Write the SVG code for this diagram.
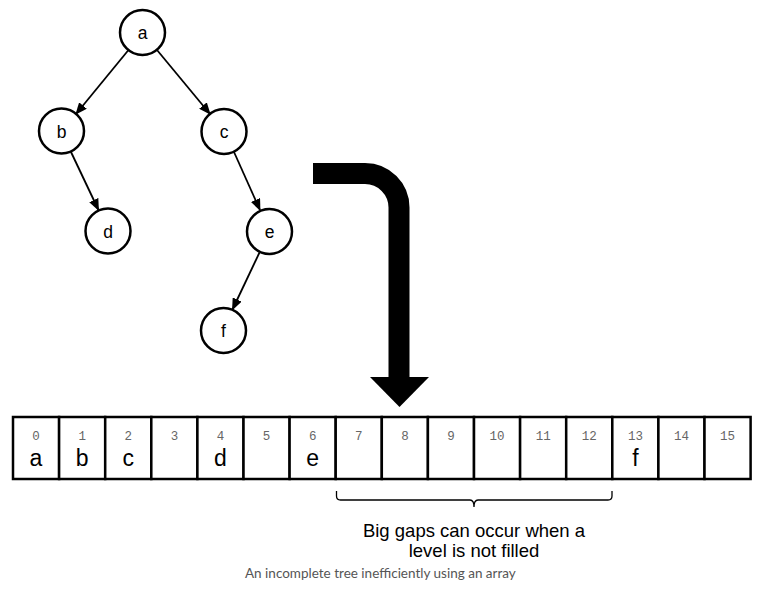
<svg xmlns="http://www.w3.org/2000/svg" width="781" height="589" viewBox="0 0 781 589">
<style>
.node circle{fill:#fff;stroke:#000;stroke-width:2.5}
.node text{font-family:"Liberation Sans",Arial,sans-serif;font-size:17.5px;text-anchor:middle;fill:#000}
.edge{stroke:#000;stroke-width:1.8;fill:none;marker-end:url(#ah)}
.cell{fill:#fff;stroke:#000;stroke-width:2.5}
.idx{font-family:"Liberation Mono","Courier New",monospace;font-size:12.5px;fill:#666;text-anchor:middle}
.val{font-family:"Liberation Sans",Arial,sans-serif;font-size:23px;fill:#000;text-anchor:middle}
.note{font-family:"Liberation Sans",Arial,sans-serif;font-size:18.5px;fill:#000;text-anchor:middle}
.cap{font-family:Lato,"Open Sans",sans-serif;font-size:13.5px;fill:#555}
</style>
<defs>
<marker id="ah" viewBox="0 0 12 10" refX="11" refY="5" markerWidth="12" markerHeight="10" markerUnits="userSpaceOnUse" orient="auto">
<path d="M0,0 L12,5 L0,10 z" fill="#000"/>
</marker>
</defs>
<rect width="781" height="589" fill="#fff"/>
<g id="connectors">
<line class="edge" x1="128.5" y1="50" x2="76" y2="114"/>
<line class="edge" x1="157" y1="50" x2="210" y2="114"/>
<line class="edge" x1="71" y1="152" x2="98.5" y2="210"/>
<line class="edge" x1="234" y1="152" x2="260" y2="210"/>
<line class="edge" x1="259.5" y1="252.5" x2="232.5" y2="309.5"/>
</g>
<g id="node-a" class="node"><circle cx="142.5" cy="32.5" r="22.5"/><text x="142.5" y="38.5">a</text></g>
<g id="node-b" class="node"><circle cx="61.5" cy="131" r="22.5"/><text x="61.5" y="137.5">b</text></g>
<g id="node-c" class="node"><circle cx="224" cy="131.5" r="22.5"/><text x="224" y="137.5">c</text></g>
<g id="node-d" class="node"><circle cx="108" cy="231" r="22.5"/><text x="108" y="237.5">d</text></g>
<g id="node-e" class="node"><circle cx="269.5" cy="231.5" r="22.5"/><text x="269.5" y="237.5">e</text></g>
<g id="node-f" class="node"><circle cx="223.5" cy="330.5" r="22.5"/><text x="223.5" y="337">f</text></g>
<g id="big-arrow">
<path d="M313,173.5 H365 A34,34 0 0 1 399,207.5 V378" fill="none" stroke="#000" stroke-width="21"/>
<polygon points="370,377 429,377 399.5,407" fill="#000"/>
</g>
<g id="array">
<rect class="cell" x="13" y="417" width="46.1" height="62"/>
<rect class="cell" x="59.1" y="417" width="46.1" height="62"/>
<rect class="cell" x="105.2" y="417" width="46.1" height="62"/>
<rect class="cell" x="151.3" y="417" width="46.1" height="62"/>
<rect class="cell" x="197.4" y="417" width="46.1" height="62"/>
<rect class="cell" x="243.5" y="417" width="46.1" height="62"/>
<rect class="cell" x="289.6" y="417" width="46.1" height="62"/>
<rect class="cell" x="335.7" y="417" width="46.1" height="62"/>
<rect class="cell" x="381.8" y="417" width="46.1" height="62"/>
<rect class="cell" x="427.9" y="417" width="46.1" height="62"/>
<rect class="cell" x="474" y="417" width="46.1" height="62"/>
<rect class="cell" x="520.1" y="417" width="46.1" height="62"/>
<rect class="cell" x="566.2" y="417" width="46.1" height="62"/>
<rect class="cell" x="612.3" y="417" width="46.1" height="62"/>
<rect class="cell" x="658.4" y="417" width="46.1" height="62"/>
<rect class="cell" x="704.5" y="417" width="46.1" height="62"/>
<text class="idx" x="36" y="439.5">0</text>
<text class="idx" x="82.2" y="439.5">1</text>
<text class="idx" x="128.3" y="439.5">2</text>
<text class="idx" x="174.4" y="439.5">3</text>
<text class="idx" x="220.5" y="439.5">4</text>
<text class="idx" x="266.6" y="439.5">5</text>
<text class="idx" x="312.7" y="439.5">6</text>
<text class="idx" x="358.8" y="439.5">7</text>
<text class="idx" x="404.9" y="439.5">8</text>
<text class="idx" x="451" y="439.5">9</text>
<text class="idx" x="497.1" y="439.5">10</text>
<text class="idx" x="543.2" y="439.5">11</text>
<text class="idx" x="589.3" y="439.5">12</text>
<text class="idx" x="635.4" y="439.5">13</text>
<text class="idx" x="681.5" y="439.5">14</text>
<text class="idx" x="727.6" y="439.5">15</text>
<text class="val" x="36" y="466">a</text>
<text class="val" x="82.2" y="466">b</text>
<text class="val" x="128.3" y="466">c</text>
<text class="val" x="220.5" y="466">d</text>
<text class="val" x="312.7" y="466">e</text>
<text class="val" x="635.4" y="466">f</text>
</g>
<g id="brace">
<path d="M336.5,491 V496 Q336.5,500 340.5,500 H470 Q474,500 474,507 Q474,500 478,500 H608 Q612,500 612,496 V491" fill="none" stroke="#000" stroke-width="1.3"/>
<text class="note" x="474" y="537">Big gaps can occur when a</text>
<text class="note" x="474" y="557">level is not filled</text>
</g>
<text class="cap" x="245" y="578">An incomplete tree inefficiently using an array</text>
</svg>
